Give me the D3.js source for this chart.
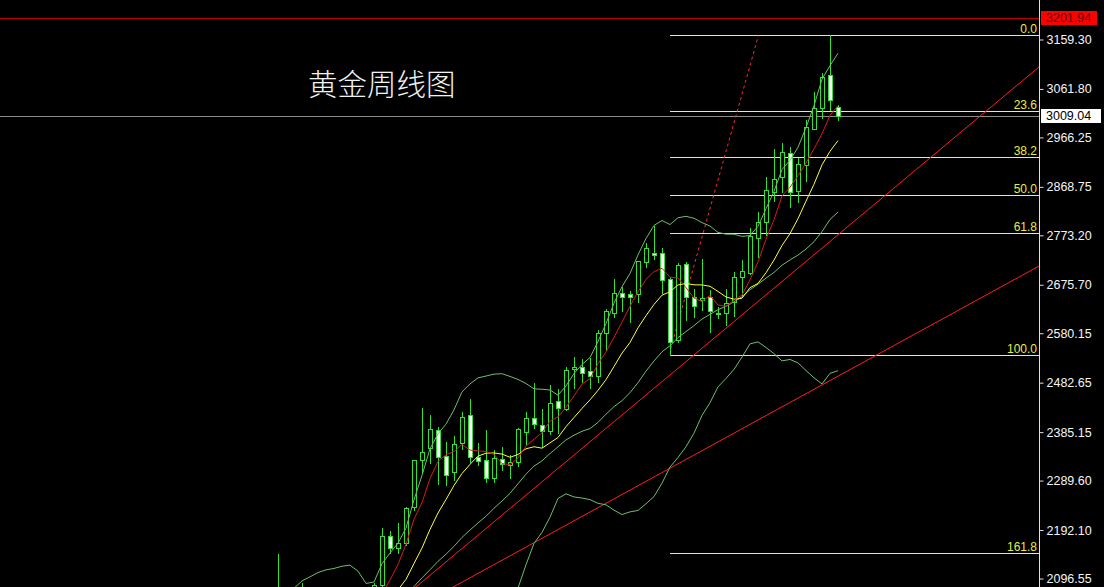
<!DOCTYPE html>
<html><head><meta charset="utf-8">
<script src="https://cdn.jsdelivr.net/npm/d3@7"></script>
<style>html,body{margin:0;padding:0;background:#000;overflow:hidden}</style>
</head><body><svg id="c" width="1104" height="587"></svg>
<script>
// ---------------- DATA ----------------
const title = "黄金周线图";
const weeks = ["2023-12-04","2023-12-11","2023-12-18","2023-12-25","2024-01-01","2024-01-08","2024-01-15","2024-01-22","2024-01-29","2024-02-05","2024-02-12","2024-02-19","2024-02-26","2024-03-04","2024-03-11","2024-03-18","2024-03-25","2024-04-01","2024-04-08","2024-04-15","2024-04-22","2024-04-29","2024-05-06","2024-05-13","2024-05-20","2024-05-27","2024-06-03","2024-06-10","2024-06-17","2024-06-24","2024-07-01","2024-07-08","2024-07-15","2024-07-22","2024-07-29","2024-08-05","2024-08-12","2024-08-19","2024-08-26","2024-09-02","2024-09-09","2024-09-16","2024-09-23","2024-09-30","2024-10-07","2024-10-14","2024-10-21","2024-10-28","2024-11-04","2024-11-11","2024-11-18","2024-11-25","2024-12-02","2024-12-09","2024-12-16","2024-12-23","2024-12-30","2025-01-06","2025-01-13","2025-01-20","2025-01-27","2025-02-03","2025-02-10","2025-02-17","2025-02-24","2025-03-03","2025-03-10","2025-03-17","2025-03-24","2025-03-31","2025-04-07"];
const openP  = [2072,2004,2019,2053,2063,2045,2049,2029,2018,2039,2024,2013,2035,2083,2180,2156,2166,2237,2330,2353,2389,2338,2306,2363,2418,2336,2330,2294,2332,2320,2326,2386,2413,2400,2387,2446,2430,2510,2514,2505,2496,2580,2620,2659,2657,2657,2721,2738,2738,2687,2567,2717,2652,2645,2652,2621,2620,2642,2691,2699,2768,2799,2858,2888,2935,2860,2912,2983,3024,3089,3026];
const highP  = [2144,2047,2070,2088,2076,2062,2062,2037,2065,2044,2032,2041,2088,2196,2190,2205,2237,2331,2432,2418,2396,2366,2378,2424,2450,2363,2389,2350,2355,2340,2393,2425,2483,2430,2478,2470,2514,2533,2530,2532,2586,2628,2687,2671,2663,2722,2758,2791,2749,2692,2719,2721,2667,2726,2665,2631,2667,2701,2724,2788,2819,2888,2943,2955,2947,2925,3001,3055,3093,3167.6,3030];
const lowP   = [1973,1973,2016,2047,2017,2013,2001,2010,2016,2015,1984,2010,2024,2079,2147,2146,2163,2231,2305,2324,2282,2280,2290,2352,2326,2320,2287,2287,2310,2295,2318,2360,2393,2356,2381,2384,2428,2472,2484,2472,2484,2547,2612,2624,2602,2641,2711,2726,2660,2537,2563,2606,2612,2626,2583,2610,2596,2614,2656,2697,2730,2774,2840,2859,2829,2839,2880,2982,3004,3020,3001];
const closeP = [2004,2019,2053,2062,2045,2049,2029,2018,2039,2024,2013,2035,2083,2180,2156,2166,2235,2330,2345,2391,2336,2301,2361,2415,2336,2328,2294,2334,2323,2327,2392,2413,2401,2387,2442,2433,2508,2514,2502,2496,2580,2624,2659,2652,2651,2722,2748,2735,2685,2563,2715,2652,2633,2650,2624,2620,2640,2691,2703,2772,2799,2862,2884,2937,2858,2913,2987,3024,3085,3040,3009.04];
// closes of the 20 weeks before the first visible week (used by the moving averages / bands)
const warmupCloses = [1962,1959,1943,1913,1889,1915,1940,1919,1924,1925,1848,1833,1932,1981,2006,1993,1940,1981,2002,2072];
const tickValues = [3159.30,3061.80,2966.25,2868.75,2773.20,2675.70,2580.15,2482.65,2385.15,2289.60,2192.10,2096.55];
const fibLevels = [0.0,23.6,38.2,50.0,61.8,100.0,161.8];
const fibHigh = 3167.6, fibLow = 2537.0, fibStartWeek = 49;
const resistancePrice = 3201.94;
const currentPrice = 3009.04;
// trend lines as [week index, price] anchor pairs
const trendUpper = [[45.25,2448.5],[95.0,3103.5]];
const trendLower = [[74.84,2537.3],[95.0,2711.5]];
const trendDashed = [[49.1,2550],[60.05,3167]];

// ---------------- CHART ----------------
const W = 1104, H = 587, axisX = 1039;
const svg = d3.select("#c");
svg.append("rect").attr("width",W).attr("height",H).attr("fill","#000");
svg.append("defs").append("clipPath").attr("id","plot")
  .append("rect").attr("x",0).attr("y",0).attr("width",axisX).attr("height",H);

const x = d3.scaleLinear().domain([0,70]).range([278,838]);
const y = d3.scaleLinear().domain([3159.30,2096.55]).range([39.5,578.5]);
const crisp = v => Math.round(v)+0.5;

const plot = svg.append("g").attr("clip-path","url(#plot)");

// horizontal price lines
plot.append("line").attr("x1",0).attr("x2",axisX).attr("y1",crisp(y(resistancePrice))).attr("y2",crisp(y(resistancePrice)))
  .attr("stroke","#c00000").attr("stroke-width",1).attr("shape-rendering","crispEdges");
plot.append("line").attr("x1",0).attr("x2",axisX).attr("y1",crisp(y(currentPrice))).attr("y2",crisp(y(currentPrice)))
  .attr("stroke","#8c8c8c").attr("stroke-width",1).attr("shape-rendering","crispEdges");

// fibonacci
const fibG = plot.append("g");
fibLevels.forEach(l => {
  const p = fibHigh - (fibHigh - fibLow) * l / 100;
  const yy = crisp(y(p));
  fibG.append("line").attr("x1",x(fibStartWeek)).attr("x2",axisX).attr("y1",yy).attr("y2",yy)
    .attr("stroke","#ffff00").attr("stroke-width",1).attr("shape-rendering","crispEdges");
  fibG.append("text").attr("x",axisX-2).attr("y",yy-3).attr("text-anchor","end")
    .attr("font-family","Liberation Sans, Arial, sans-serif").attr("font-size","12px")
    .attr("fill","#eaea48").text(l.toFixed(1));
});

// trend lines
const axisIdx = x.invert(axisX);
function trendPts(t, i0, i1){
  const [a,b] = t; const s = (b[1]-a[1])/(b[0]-a[0]);
  return [[i0, a[1]+s*(i0-a[0])],[i1, a[1]+s*(i1-a[0])]];
}
const tl = d3.line().x(d=>x(d[0])).y(d=>y(d[1]));
plot.append("path").attr("d",tl(trendPts(trendUpper,0,axisIdx))).attr("stroke","#ff1e1e").attr("fill","none").attr("stroke-width",1);
plot.append("path").attr("d",tl(trendPts(trendLower,0,axisIdx))).attr("stroke","#ff1e1e").attr("fill","none").attr("stroke-width",1);
plot.append("path").attr("d",tl(trendDashed)).attr("stroke","#ff2a2a").attr("fill","none").attr("stroke-width",1).attr("stroke-dasharray","3,3");

// candles
const green = "#35e035";
const cg = plot.append("g").attr("shape-rendering","crispEdges");
closeP.forEach((c,i) => {
  const cx = Math.round(x(i));
  const o = openP[i];
  const bull = c >= o;
  cg.append("line").attr("x1",cx+0.5).attr("x2",cx+0.5)
    .attr("y1",Math.round(y(highP[i]))).attr("y2",Math.round(y(lowP[i]))+1)
    .attr("stroke",green).attr("stroke-width",1);
  const yt = Math.round(y(Math.max(o,c))), yb = Math.round(y(Math.min(o,c)));
  cg.append("rect").attr("x",cx-1.5).attr("y",yt+0.5).attr("width",4).attr("height",Math.max(yb-yt,1))
    .attr("fill", bull ? "#000" : "#ffffff").attr("stroke",green).attr("stroke-width",1);
});

// indicators
const allC = warmupCloses.concat(closeP), off = warmupCloses.length;
function sma(n,i){ const s = allC.slice(off+i-n+1, off+i+1); return d3.mean(s); }
function sd(n,i){ const s = allC.slice(off+i-n+1, off+i+1); const m = d3.mean(s); return Math.sqrt(d3.mean(s, v=>(v-m)*(v-m))); }
const idx = d3.range(closeP.length);
const ma5 = idx.map(i=>[i,sma(5,i)]);
const ma10 = idx.map(i=>[i,sma(10,i)]);
const mid = idx.map(i=>[i,sma(20,i)]);
const up = idx.map(i=>[i,sma(20,i)+2*sd(20,i)]);
const lo = idx.map(i=>[i,sma(20,i)-2*sd(20,i)]);
const bbCol = "#6cbf6c";
[up,mid,lo].forEach(s => plot.append("path").attr("d",tl(s)).attr("stroke",bbCol).attr("fill","none").attr("stroke-width",1));
plot.append("path").attr("d",tl(ma10)).attr("stroke","#ffff3c").attr("fill","none").attr("stroke-width",1);
plot.append("path").attr("d",tl(ma5)).attr("stroke","#d81c1c").attr("fill","none").attr("stroke-width",1);

// title
svg.append("text").attr("x",308).attr("y",95)
  .attr("font-family","Noto Sans CJK SC, sans-serif").attr("font-size","29.5px").attr("font-weight",300)
  .attr("fill","#f2f2f2").text(title);

// right axis
const axis = d3.axisRight(y).tickValues(tickValues).tickFormat(d3.format(".2f")).tickSize(4).tickPadding(3);
const ag = svg.append("g").attr("transform",`translate(${axisX+0.5},0)`).call(axis);
ag.select(".domain").attr("d",`M0,0V${H}`).attr("stroke","#e0e0e0");
ag.selectAll(".tick line").attr("stroke","#e0e0e0");
ag.selectAll(".tick text").attr("fill","#f4f4f4").attr("font-family","Liberation Sans, Arial, sans-serif").attr("font-size","12.5px");

// price labels
function priceTag(p, bg, fg, w){
  const yy = y(p);
  svg.append("rect").attr("x",axisX+2).attr("y",Math.round(yy)-7).attr("width",w).attr("height",14).attr("fill",bg);
  svg.append("text").attr("x",axisX+7).attr("y",yy).attr("dy","0.36em")
    .attr("font-family","Liberation Sans, Arial, sans-serif").attr("font-size","12.5px").attr("fill",fg).text(p.toFixed(2));
}
priceTag(resistancePrice,"#ff0000","#5a0000",56);
priceTag(currentPrice,"#ffffff","#000000",60);
</script></body></html>
